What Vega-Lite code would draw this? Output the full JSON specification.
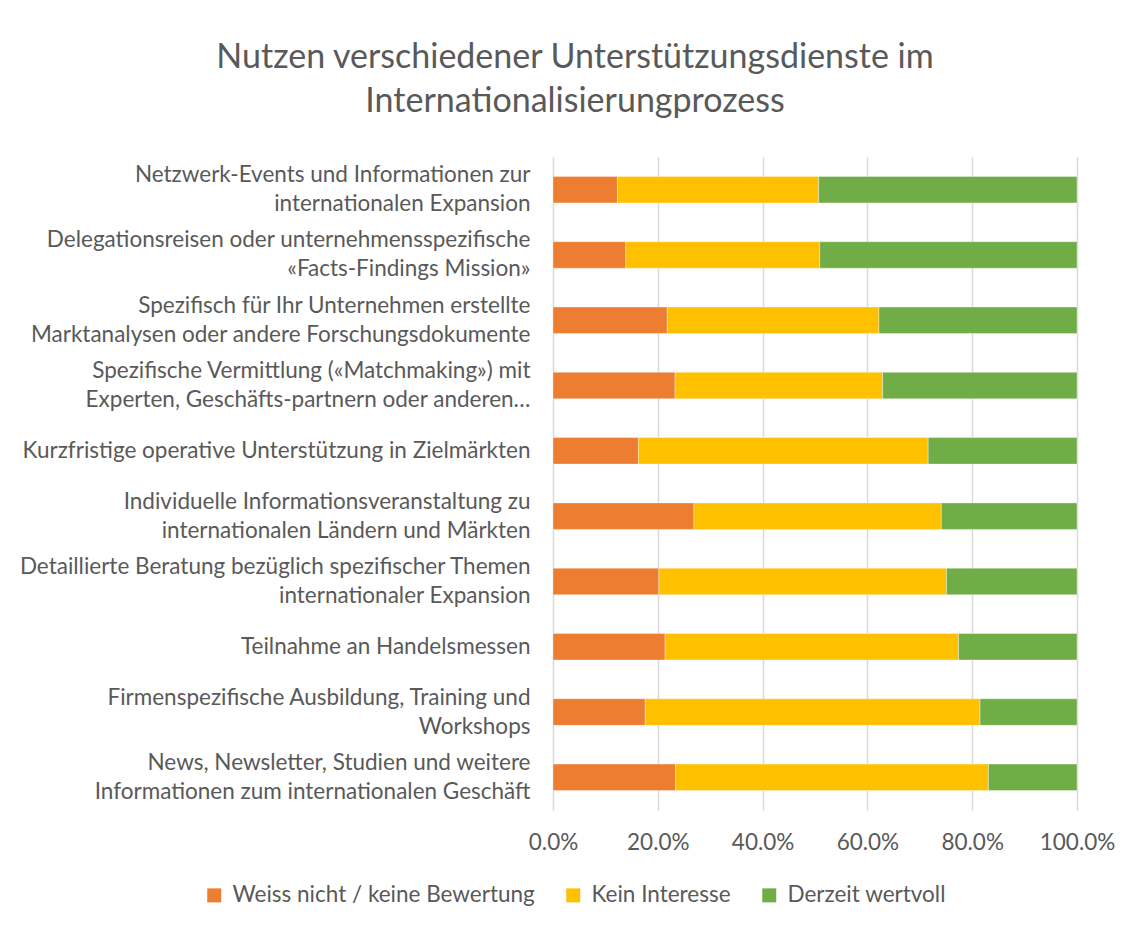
{
  "$schema": "https://vega.github.io/schema/vega-lite/v6.json",
  "autosize": {"type": "none"},
  "padding": {"left": 553, "top": 157, "right": 57, "bottom": 115},
  "width": 524,
  "height": 653,
  "background": "white",
  "title": {
    "text": ["Nutzen verschiedener Unterstützungsdienste im", "Internationalisierungprozess"],
    "anchor": "middle",
    "frame": "group",
    "dx": -240,
    "font": "Lato",
    "fontSize": 34,
    "fontWeight": "normal",
    "color": "#595959",
    "lineHeight": 44,
    "offset": 38
  },
  "data": {
    "values": [
      {"service": "Netzwerk-Events und Informationen zur\ninternationalen Expansion", "rating": "Weiss nicht / keine Bewertung", "share": 0.123},
      {"service": "Netzwerk-Events und Informationen zur\ninternationalen Expansion", "rating": "Kein Interesse", "share": 0.384},
      {"service": "Netzwerk-Events und Informationen zur\ninternationalen Expansion", "rating": "Derzeit wertvoll", "share": 0.493},
      {"service": "Delegationsreisen oder unternehmensspezifische\n«Facts-Findings Mission»", "rating": "Weiss nicht / keine Bewertung", "share": 0.139},
      {"service": "Delegationsreisen oder unternehmensspezifische\n«Facts-Findings Mission»", "rating": "Kein Interesse", "share": 0.370},
      {"service": "Delegationsreisen oder unternehmensspezifische\n«Facts-Findings Mission»", "rating": "Derzeit wertvoll", "share": 0.491},
      {"service": "Spezifisch für Ihr Unternehmen erstellte\nMarktanalysen oder andere Forschungsdokumente", "rating": "Weiss nicht / keine Bewertung", "share": 0.218},
      {"service": "Spezifisch für Ihr Unternehmen erstellte\nMarktanalysen oder andere Forschungsdokumente", "rating": "Kein Interesse", "share": 0.404},
      {"service": "Spezifisch für Ihr Unternehmen erstellte\nMarktanalysen oder andere Forschungsdokumente", "rating": "Derzeit wertvoll", "share": 0.378},
      {"service": "Spezifische Vermittlung («Matchmaking») mit\nExperten, Geschäfts-partnern oder anderen…", "rating": "Weiss nicht / keine Bewertung", "share": 0.233},
      {"service": "Spezifische Vermittlung («Matchmaking») mit\nExperten, Geschäfts-partnern oder anderen…", "rating": "Kein Interesse", "share": 0.396},
      {"service": "Spezifische Vermittlung («Matchmaking») mit\nExperten, Geschäfts-partnern oder anderen…", "rating": "Derzeit wertvoll", "share": 0.371},
      {"service": "Kurzfristige operative Unterstützung in Zielmärkten", "rating": "Weiss nicht / keine Bewertung", "share": 0.163},
      {"service": "Kurzfristige operative Unterstützung in Zielmärkten", "rating": "Kein Interesse", "share": 0.553},
      {"service": "Kurzfristige operative Unterstützung in Zielmärkten", "rating": "Derzeit wertvoll", "share": 0.284},
      {"service": "Individuelle Informationsveranstaltung zu\ninternationalen Ländern und Märkten", "rating": "Weiss nicht / keine Bewertung", "share": 0.269},
      {"service": "Individuelle Informationsveranstaltung zu\ninternationalen Ländern und Märkten", "rating": "Kein Interesse", "share": 0.472},
      {"service": "Individuelle Informationsveranstaltung zu\ninternationalen Ländern und Märkten", "rating": "Derzeit wertvoll", "share": 0.259},
      {"service": "Detaillierte Beratung bezüglich spezifischer Themen\ninternationaler Expansion", "rating": "Weiss nicht / keine Bewertung", "share": 0.202},
      {"service": "Detaillierte Beratung bezüglich spezifischer Themen\ninternationaler Expansion", "rating": "Kein Interesse", "share": 0.549},
      {"service": "Detaillierte Beratung bezüglich spezifischer Themen\ninternationaler Expansion", "rating": "Derzeit wertvoll", "share": 0.249},
      {"service": "Teilnahme an Handelsmessen", "rating": "Weiss nicht / keine Bewertung", "share": 0.214},
      {"service": "Teilnahme an Handelsmessen", "rating": "Kein Interesse", "share": 0.560},
      {"service": "Teilnahme an Handelsmessen", "rating": "Derzeit wertvoll", "share": 0.226},
      {"service": "Firmenspezifische Ausbildung, Training und\nWorkshops", "rating": "Weiss nicht / keine Bewertung", "share": 0.176},
      {"service": "Firmenspezifische Ausbildung, Training und\nWorkshops", "rating": "Kein Interesse", "share": 0.639},
      {"service": "Firmenspezifische Ausbildung, Training und\nWorkshops", "rating": "Derzeit wertvoll", "share": 0.185},
      {"service": "News, Newsletter, Studien und weitere\nInformationen zum internationalen Geschäft", "rating": "Weiss nicht / keine Bewertung", "share": 0.234},
      {"service": "News, Newsletter, Studien und weitere\nInformationen zum internationalen Geschäft", "rating": "Kein Interesse", "share": 0.597},
      {"service": "News, Newsletter, Studien und weitere\nInformationen zum internationalen Geschäft", "rating": "Derzeit wertvoll", "share": 0.169}
    ]
  },
  "mark": {"type": "bar", "stroke": "white", "strokeWidth": 0.6, "strokeOpacity": 0.6},
  "encoding": {
    "y": {
      "field": "service",
      "type": "nominal",
      "sort": null,
      "title": null,
      "scale": {"paddingInner": 0.594, "paddingOuter": 0.297},
      "axis": {
        "labelExpr": "split(datum.label, '\\n')",
        "labelFont": "Lato",
        "labelFontSize": 22.5,
        "labelColor": "#595959",
        "labelLineHeight": 29,
        "labelOffset": {"condition": {"test": "indexof(datum.value, '\\n') >= 0", "value": -14.5}, "value": 0},
        "labelPadding": 23,
        "labelLimit": 700,
        "ticks": false,
        "domain": false,
        "grid": false
      }
    },
    "x": {
      "field": "share",
      "type": "quantitative",
      "stack": "zero",
      "title": null,
      "scale": {"domain": [0, 1], "nice": false},
      "axis": {
        "values": [0, 0.2, 0.4, 0.6, 0.8, 1],
        "format": ".1%",
        "labelFont": "Lato",
        "labelFontSize": 22.5,
        "labelColor": "#595959",
        "labelPadding": 21,
        "labelOverlap": false,
        "labelFlush": false,
        "labelBound": false,
        "ticks": false,
        "domain": false,
        "grid": true,
        "gridColor": "#d9d9d9",
        "gridWidth": 1.5
      }
    },
    "order": {"field": "rating", "sort": "descending"},
    "color": {
      "field": "rating",
      "type": "nominal",
      "sort": ["Weiss nicht / keine Bewertung", "Kein Interesse", "Derzeit wertvoll"],
      "scale": {
        "domain": ["Weiss nicht / keine Bewertung", "Kein Interesse", "Derzeit wertvoll"],
        "range": ["#ED7D31", "#FFC000", "#70AD47"]
      },
      "legend": {
        "title": null,
        "orient": "none",
        "direction": "horizontal",
        "legendX": -350,
        "legendY": 727,
        "symbolType": "square",
        "symbolSize": 196,
        "symbolStrokeWidth": 0,
        "symbolOpacity": 1,
        "labelFont": "Lato",
        "labelFontSize": 22.5,
        "labelColor": "#595959",
        "labelOffset": 7,
        "columnPadding": 27,
        "labelLimit": 400
      }
    }
  },
  "config": {"view": {"stroke": null}}
}
